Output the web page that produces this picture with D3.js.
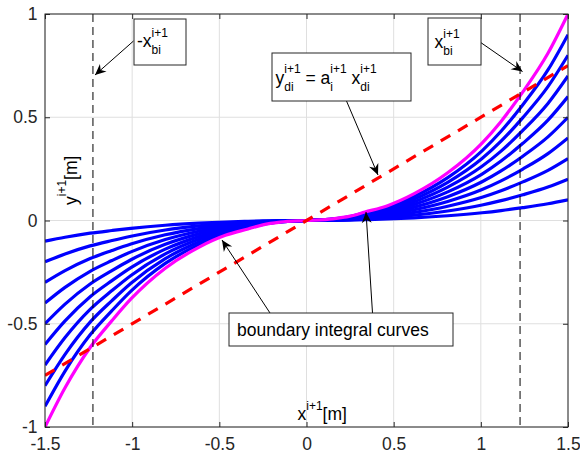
<!DOCTYPE html>
<html>
<head>
<meta charset="utf-8">
<script src="https://cdn.jsdelivr.net/npm/d3@7"></script>
<style>
  html, body { margin: 0; padding: 0; background: #fff; }
  svg { display: block; font-family: "Liberation Sans", Arial, Helvetica, sans-serif; }
</style>
</head>
<body>
<script>
// boundary integral curve (upper envelope), sampled points
const boundaryX = [-1.5, -1.385, -1.241, -1.116, -1.007, -0.81, -0.618, -0.465, -0.335, -0.25, -0.15, 0,
  0.15, 0.25, 0.335, 0.465, 0.618, 0.81, 1.007, 1.116, 1.241, 1.385, 1.5]
const boundaryY = [-1.0, -0.81, -0.615, -0.485, -0.38, -0.231, -0.13, -0.072, -0.041, -0.021, -0.008, 0,
  0.008, 0.021, 0.041, 0.072, 0.13, 0.231, 0.375, 0.48, 0.623, 0.81, 1.0]
// family of integral curves, as fractions of the boundary curve
const curveScales = [0.1, 0.2, 0.3, 0.4, 0.5, 0.6, 0.7, 0.8, 0.9]
// straight line y = a x
const lineX = [-1.5, 1.5]
const lineY = [-0.75, 0.75]
// +/- x_bi limits
const limitX = [-1.225, 1.225]

const xTicks = [-1.5, -1, -0.5, 0, 0.5, 1, 1.5]
const yTicks = [-1, -0.5, 0, 0.5, 1]

const width = 580
const height = 455
const margin = { top: 14, right: 12, bottom: 28, left: 45 }
const FS = 17.5
const FS_SCRIPT = 12

const x = d3.scaleLinear().domain([-1.5, 1.5]).range([margin.left, width - margin.right])
const y = d3.scaleLinear().domain([-1, 1]).range([height - margin.bottom, margin.top])

const svg = d3.select('body').append('svg')
  .attr('width', width)
  .attr('height', height)

svg.append('defs').append('clipPath').attr('id', 'plot-clip')
  .append('rect')
  .attr('x', x.range()[0]).attr('y', y.range()[1])
  .attr('width', x.range()[1] - x.range()[0])
  .attr('height', y.range()[0] - y.range()[1])

// grid
const grid = svg.append('g').attr('stroke', '#dfdfdf').attr('stroke-width', 1)
grid.selectAll('.gx').data(xTicks).enter().append('line')
  .attr('x1', d => x(d)).attr('x2', d => x(d))
  .attr('y1', y.range()[0]).attr('y2', y.range()[1])
grid.selectAll('.gy').data(yTicks).enter().append('line')
  .attr('y1', d => y(d)).attr('y2', d => y(d))
  .attr('x1', x.range()[0]).attr('x2', x.range()[1])

// curves
const plot = svg.append('g').attr('clip-path', 'url(#plot-clip)')
const boundary = boundaryX.map((d, i) => [d, boundaryY[i]])
const line = d3.line()
  .x(d => x(d[0]))
  .y(d => y(d[1]))
  .curve(d3.curveMonotoneX)

plot.selectAll('.family').data(curveScales).enter().append('path')
  .attr('d', k => line(boundary.map(p => [p[0], k * p[1]])))
  .attr('fill', 'none')
  .attr('stroke', '#0000ff')
  .attr('stroke-width', 3.2)

plot.append('path')
  .attr('d', line(boundary))
  .attr('fill', 'none')
  .attr('stroke', '#ff00ff')
  .attr('stroke-width', 3.2)

plot.append('path')
  .attr('d', d3.line().x(d => x(d[0])).y(d => y(d[1]))(lineX.map((d, i) => [d, lineY[i]])))
  .attr('fill', 'none')
  .attr('stroke', '#ff0000')
  .attr('stroke-width', 3.2)
  .attr('stroke-dasharray', '11,9')

plot.selectAll('.limit').data(limitX).enter().append('line')
  .attr('x1', d => x(d)).attr('x2', d => x(d))
  .attr('y1', y(1)).attr('y2', y(-1))
  .attr('stroke', '#000')
  .attr('stroke-width', 1)
  .attr('stroke-dasharray', '8,5')

// axes, ticks pointing inward on all four sides
const fmt = d => String(d)
const axisColor = '#262626'
function styleAxis (g) {
  g.select('.domain').remove()
  g.selectAll('line').attr('stroke', axisColor)
  g.selectAll('text').attr('fill', axisColor).style('font-size', FS + 'px')
}
svg.append('g')
  .attr('transform', `translate(0,${y.range()[0]})`)
  .call(d3.axisBottom(x).tickValues(xTicks).tickFormat(fmt).tickSizeInner(-5).tickSizeOuter(0).tickPadding(11))
  .call(styleAxis)
svg.append('g')
  .attr('transform', `translate(0,${y.range()[1]})`)
  .call(d3.axisTop(x).tickValues(xTicks).tickFormat('').tickSizeInner(-5).tickSizeOuter(0))
  .call(styleAxis)
svg.append('g')
  .attr('transform', `translate(${x.range()[0]},0)`)
  .call(d3.axisLeft(y).tickValues(yTicks).tickFormat(fmt).tickSizeInner(-5).tickSizeOuter(0).tickPadding(7.5))
  .call(styleAxis)
svg.append('g')
  .attr('transform', `translate(${x.range()[1]},0)`)
  .call(d3.axisRight(y).tickValues(yTicks).tickFormat('').tickSizeInner(-5).tickSizeOuter(0))
  .call(styleAxis)

svg.append('rect')
  .attr('x', x.range()[0]).attr('y', y.range()[1])
  .attr('width', x.range()[1] - x.range()[0])
  .attr('height', y.range()[0] - y.range()[1])
  .attr('fill', 'none')
  .attr('stroke', axisColor)
  .attr('stroke-width', 1)

// text with stacked super/subscripts (TeX-like), laid out piece by piece
function scriptText (g, x0, y0, parts) {
  let cx = x0
  parts.forEach(p => {
    const base = g.append('text')
      .attr('x', cx).attr('y', y0)
      .style('font-size', FS + 'px')
      .style('white-space', 'pre')
      .text(p.t)
    cx += base.node().getComputedTextLength()
    let w = 0
    if (p.sup) {
      const s = g.append('text').attr('x', cx).attr('y', y0 - 10.5)
        .style('font-size', FS_SCRIPT + 'px').text(p.sup)
      w = Math.max(w, s.node().getComputedTextLength())
    }
    if (p.sub) {
      const s = g.append('text').attr('x', cx).attr('y', y0 + 7)
        .style('font-size', FS_SCRIPT + 'px').text(p.sub)
      w = Math.max(w, s.node().getComputedTextLength())
    }
    cx += w
  })
}

// axis labels, placed inside the axes
const labels = svg.append('g').attr('fill', '#000')
scriptText(labels, 297.5, 420, [{ t: 'x', sup: 'i+1' }, { t: '[m]' }])
scriptText(labels.append('g').attr('transform', 'translate(76.5,205) rotate(-90)'), 0, 0,
  [{ t: 'y', sup: 'i+1' }, { t: '[m]' }])

// annotations
const notes = [
  { box: [134, 19, 52, 46], at: [137, 47], parts: [{ t: '-x', sup: 'i+1', sub: 'bi' }] },
  { box: [428, 18, 53, 47], at: [434.5, 48], parts: [{ t: 'x', sup: 'i+1', sub: 'bi' }] },
  {
    box: [272, 53, 139, 48],
    at: [275.5, 83.5],
    parts: [{ t: 'y', sup: 'i+1', sub: 'di' }, { t: ' = a', sup: 'i+1', sub: 'i' }, { t: ' x', sup: 'i+1', sub: 'di' }]
  },
  { box: [229, 313, 224, 33], at: [237, 336], parts: [{ t: 'boundary integral curves' }] }
]
const arrows = [
  [[133.5, 41], [95, 75]],
  [[480, 42], [522.5, 71.5]],
  [[346.5, 101], [378, 175]],
  [[270, 313], [222, 240]],
  [[372.5, 313], [366, 212]]
]

const ann = svg.append('g')
arrows.forEach(([a, b]) => {
  const ang = Math.atan2(b[1] - a[1], b[0] - a[0]) * 180 / Math.PI
  ann.append('line')
    .attr('x1', a[0]).attr('y1', a[1])
    .attr('x2', b[0]).attr('y2', b[1])
    .attr('stroke', '#000').attr('stroke-width', 1)
  ann.append('path')
    .attr('transform', `translate(${b[0]},${b[1]}) rotate(${ang})`)
    .attr('d', 'M0,0 L-11,-5 L-7.5,0 L-11,5 Z')
    .attr('fill', '#000')
})
notes.forEach(n => {
  ann.append('rect')
    .attr('x', n.box[0]).attr('y', n.box[1])
    .attr('width', n.box[2]).attr('height', n.box[3])
    .attr('fill', '#fff')
    .attr('stroke', '#262626')
    .attr('stroke-width', 1)
  scriptText(ann.append('g').attr('fill', '#000'), n.at[0], n.at[1], n.parts)
})
</script>
</body>
</html>
